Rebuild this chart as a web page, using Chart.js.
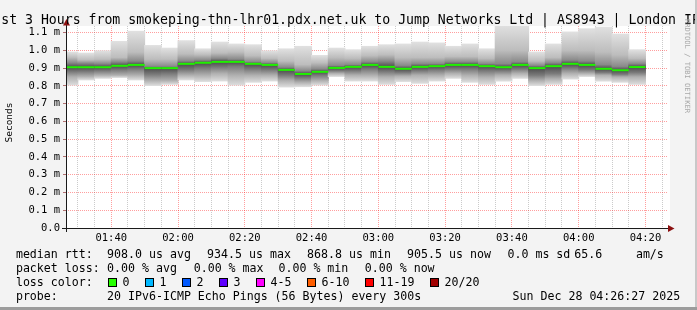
<!DOCTYPE html>
<html><head><meta charset="utf-8">
<script src="https://cdn.jsdelivr.net/npm/chart.js@4/dist/chart.umd.min.js"></script>
<style>html,body{margin:0;padding:0;background:#f3f3f3;}#wrap{width:697px;height:310px;}</style>
</head><body><div id="wrap"><canvas id="c" width="697" height="310"></canvas></div>
<script>
// ---- data (milliseconds) ----
const windowStart = '01:26:27';
const windowEnd = '04:26:27';
const stepEnds = ['01:30','01:35','01:40','01:45','01:50','01:55','02:00','02:05','02:10','02:15','02:20','02:25','02:30','02:35','02:40','02:45','02:50','02:55','03:00','03:05','03:10','03:15','03:20','03:25','03:30','03:35','03:40','03:45','03:50','03:55','04:00','04:05','04:10','04:15','04:20'];
const medianMs = [0.905,0.905,0.905,0.913,0.918,0.900,0.900,0.924,0.930,0.935,0.935,0.924,0.918,0.890,0.867,0.879,0.901,0.907,0.918,0.907,0.896,0.907,0.911,0.918,0.918,0.911,0.905,0.918,0.900,0.911,0.924,0.918,0.896,0.888,0.906];
const minMs = [0.805,0.834,0.843,0.847,0.834,0.802,0.809,0.834,0.825,0.828,0.805,0.821,0.828,0.794,0.796,0.805,0.853,0.828,0.828,0.809,0.825,0.815,0.828,0.843,0.821,0.809,0.828,0.843,0.802,0.809,0.839,0.853,0.828,0.821,0.809];
const maxMs = [0.990,0.984,0.997,1.050,1.107,1.027,1.012,1.054,1.008,1.046,1.035,1.031,0.997,1.008,1.022,0.971,1.012,1.003,1.022,1.031,1.035,1.046,1.041,1.022,1.035,1.008,1.140,1.140,0.990,1.035,1.103,1.121,1.130,1.091,1.003];
const midLowMs = [0.850,0.853,0.860,0.860,0.860,0.830,0.830,0.860,0.860,0.870,0.860,0.860,0.860,0.830,0.820,0.830,0.870,0.860,0.860,0.850,0.855,0.860,0.860,0.870,0.860,0.850,0.860,0.870,0.830,0.840,0.870,0.870,0.860,0.850,0.850];
const midHighMs = [0.960,0.946,0.950,0.960,0.990,0.950,0.950,0.980,0.975,0.985,0.990,0.970,0.955,0.940,0.920,0.930,0.960,0.955,0.970,0.975,0.960,0.960,0.960,0.965,0.965,0.955,1.000,1.000,0.940,0.960,1.000,1.000,0.990,0.975,0.955];
const coreLowMs = [0.880,0.881,0.885,0.890,0.895,0.865,0.870,0.890,0.900,0.905,0.910,0.895,0.890,0.860,0.845,0.860,0.885,0.885,0.895,0.880,0.875,0.885,0.890,0.895,0.895,0.885,0.885,0.895,0.860,0.870,0.900,0.890,0.875,0.865,0.875];
const coreHighMs = [0.930,0.928,0.925,0.935,0.940,0.910,0.910,0.940,0.945,0.955,0.950,0.935,0.930,0.905,0.885,0.895,0.915,0.920,0.935,0.940,0.915,0.925,0.925,0.935,0.935,0.925,0.925,0.935,0.915,0.930,0.945,0.940,0.920,0.910,0.925];
const yTickValues = [0,0.1,0.2,0.3,0.4,0.5,0.6,0.7,0.8,0.9,1.0,1.1];
const yTickLabels = ['0.0','0.1 m','0.2 m','0.3 m','0.4 m','0.5 m','0.6 m','0.7 m','0.8 m','0.9 m','1.0 m','1.1 m'];
const xTickLabels = ['01:40','02:00','02:20','02:40','03:00','03:20','03:40','04:00','04:20'];
const titleText = 'st 3 Hours from smokeping-thn-lhr01.pdx.net.uk to Jump Networks Ltd | AS8943 | London IP';
const rttLegend = ['908.0 us avg','934.5 us max','868.8 us min','905.5 us now','0.0 ms sd','65.6','am/s'];
const lossLegend = ['0.00 % avg','0.00 % max','0.00 % min','0.00 % now'];
const lossColorLabels = ['0','1','2','3','4-5','6-10','11-19','20/20'];
const lossColors = ['#26ff00','#00b8ff','#0059ff','#5e00ff','#ff00ff','#ff5e00','#ff0000','#a10000'];
const probeText = '20 IPv6-ICMP Echo Pings (56 Bytes) every 300s';
const dateText = 'Sun Dec 28 04:26:27 2025';

// ---- helpers ----
const toMin = s => { const p = s.split(':').map(Number); return p[0]*60 + p[1] + (p[2]||0)/60; };
const STEP = 5;
const centers = stepEnds.map(s => toMin(s) - STEP/2);
const xMin = toMin(windowStart), xMax = toMin(windowEnd);
const labelMinutes = xTickLabels.map(toMin);
const MED_HALF = 0.0056;
const pairData = (lo, hi) => centers.map((x, i) => ({x, y: [lo[i], hi[i]]}));
const mono = '"DejaVu Sans Mono", monospace';

// vertical grey "smoke" shading of each bar, anchored on the data quantiles
function smokeFill(c) {
  if (c.type !== 'data') return '#d0d0d0';
  const chart = c.chart, y = chart.scales.y, i = c.dataIndex;
  if (!y || !chart.chartArea) return '#d0d0d0';
  const top = y.getPixelForValue(maxMs[i]), bot = y.getPixelForValue(minMs[i]);
  const h = bot - top;
  if (!(h > 0)) return '#d0d0d0';
  const g = chart.ctx.createLinearGradient(0, top, 0, bot);
  const off = v => Math.min(1, Math.max(0, (y.getPixelForValue(v) - top) / h));
  g.addColorStop(0, '#e0e0e0');
  g.addColorStop(off(midHighMs[i]), '#bdbdbd');
  g.addColorStop(off(coreHighMs[i]), '#8a8a8a');
  g.addColorStop(off(medianMs[i]), '#4c4c4c');
  g.addColorStop(off(coreLowMs[i]), '#7a7a7a');
  g.addColorStop(off(midLowMs[i]), '#b0b0b0');
  g.addColorStop(1, '#dcdcdc');
  return g;
}

const barDefaults = {grouped:false, barPercentage:1, categoryPercentage:1, borderWidth:0, clip:0, inflateAmount:0.5};
const datasets = [
  Object.assign({}, barDefaults, {label:'median', data: centers.map((x,i)=>({x, y:[medianMs[i]-MED_HALF, medianMs[i]+MED_HALF]})), backgroundColor:'#20f000', order:0, inflateAmount:0}),
  Object.assign({}, barDefaults, {label:'smoke', data: pairData(minMs, maxMs), backgroundColor: smokeFill, order:1})
];

const decor = {
  id:'decor',
  beforeDraw(chart){
    const {ctx, chartArea:a} = chart;
    ctx.save();
    ctx.fillStyle = '#f3f3f3'; ctx.fillRect(0,0,697,310);
    ctx.fillStyle = '#ffffff'; ctx.fillRect(a.left, a.top, 670 - a.left, a.bottom - a.top);
    ctx.restore();
  },
  afterDraw(chart){
    const {ctx, chartArea:a} = chart;
    ctx.save();
    // axes
    ctx.strokeStyle = '#1a1a1a'; ctx.lineWidth = 1;
    ctx.beginPath();
    ctx.moveTo(a.left+0.5, a.bottom+4); ctx.lineTo(a.left+0.5, 22);
    ctx.moveTo(a.left-4, a.bottom+0.5); ctx.lineTo(670, a.bottom+0.5);
    ctx.stroke();
    ctx.fillStyle = '#8b1010';
    ctx.beginPath(); ctx.moveTo(a.left+0.5-3.5, 25.5); ctx.lineTo(a.left+0.5+3.5, 25.5); ctx.lineTo(a.left+0.5, 19); ctx.closePath(); ctx.fill();
    ctx.beginPath(); ctx.moveTo(668, a.bottom+0.5-3.5); ctx.lineTo(668, a.bottom+0.5+3.5); ctx.lineTo(674.5, a.bottom+0.5); ctx.closePath(); ctx.fill();
    // title
    ctx.fillStyle = '#000'; ctx.font = '13.2px ' + mono; ctx.textBaseline = 'alphabetic'; ctx.textAlign = 'left';
    ctx.fillText(titleText, 1.2, 23.5);
    // y axis title
    ctx.save(); ctx.translate(10, 122.5); ctx.rotate(-Math.PI/2);
    ctx.font = '9.5px ' + mono; ctx.textAlign = 'center'; ctx.textBaseline = 'middle';
    ctx.fillText('Seconds', 0, 0); ctx.restore();
    // watermark
    ctx.save(); ctx.translate(687, 19); ctx.rotate(Math.PI/2);
    ctx.font = '7.1px ' + mono; ctx.fillStyle = '#a8a8a8'; ctx.textAlign = 'left'; ctx.textBaseline = 'middle';
    ctx.fillText('RRDTOOL / TOBI OETIKER', 0, 0); ctx.restore();
    // legend
    ctx.font = '11.6px ' + mono; ctx.fillStyle = '#000'; ctx.textAlign = 'left'; ctx.textBaseline = 'alphabetic';
    const X0 = 15.9;
    ctx.fillText('median rtt:', X0, 257.5);
    [107.1,207.1,307.1,407.1,507.5,574.2,635.9].forEach((x,i)=>ctx.fillText(rttLegend[i], x, 257.5));
    ctx.fillText('packet loss:', X0, 271.5);
    [107.1,193.7,278.5,364.8].forEach((x,i)=>ctx.fillText(lossLegend[i], x, 271.5));
    ctx.fillText('loss color:', X0, 285.5);
    const boxX = [108,145,182,219,256,307,365,430];
    boxX.forEach((x,i)=>{
      ctx.fillStyle = lossColors[i]; ctx.fillRect(x, 278, 9, 9);
      ctx.strokeStyle = '#000'; ctx.lineWidth = 1; ctx.strokeRect(x+0.5, 278.5, 8, 8);
      ctx.fillStyle = '#000'; ctx.fillText(lossColorLabels[i], x + 14.6, 285.5);
    });
    ctx.fillText('probe:', X0, 299.5);
    ctx.fillText(probeText, 107.1, 299.5);
    ctx.fillText(dateText, 512.6, 299.5);
    // frame
    ctx.fillStyle = '#c8c8c8'; ctx.fillRect(695, 0, 2, 310);
    ctx.fillStyle = '#9c9c9c'; ctx.fillRect(0, 307, 697, 3);
    ctx.restore();
  }
};

new Chart(document.getElementById('c'), {
  type:'bar',
  data:{datasets},
  options:{
    responsive:false, animation:false, devicePixelRatio:1,
    layout:{padding:{top:26, left:0, right:30, bottom:62}},
    plugins:{legend:{display:false}, tooltip:{enabled:false}, title:{display:false}},
    scales:{
      x:{
        type:'linear', min:xMin, max:xMax, offset:false, z:1,
        grid:{offset:false, drawTicks:false, lineWidth:1,
          color: c => (c.tick && labelMinutes.some(m => Math.abs(m - c.tick.value) < 1e-6)) ? 'rgba(255,0,0,0.38)' : 'rgba(140,140,140,0.45)'},
        border:{display:false, dash:[1,1]},
        afterBuildTicks: s => { const t = []; for (let m = Math.ceil(xMin/STEP)*STEP; m < xMax; m += STEP) t.push({value:m}); s.ticks = t; },
        afterFit: s => { s.height = 20; },
        ticks:{autoSkip:false, maxRotation:0, minRotation:0, padding:4, color:'#000', font:{family:'DejaVu Sans Mono', size:10.5},
          callback: v => { const i = labelMinutes.findIndex(m => Math.abs(m - v) < 1e-6); return i >= 0 ? xTickLabels[i] : ''; }}
      },
      y:{
        min:0, max:1.137, z:1,
        grid:{drawTicks:true, tickLength:3, lineWidth:1, color:'rgba(255,0,0,0.38)', tickColor:'#b07070'},
        border:{display:false, dash:[1,1]},
        afterBuildTicks: s => { s.ticks = yTickValues.map(v => ({value:v})); },
        afterFit: s => { s.width = 66; },
        ticks:{padding:3, color:'#000', font:{family:'DejaVu Sans Mono', size:10.5},
          callback: (v, i) => yTickLabels[i]}
      }
    }
  },
  plugins:[decor]
});
</script>
</body></html>
